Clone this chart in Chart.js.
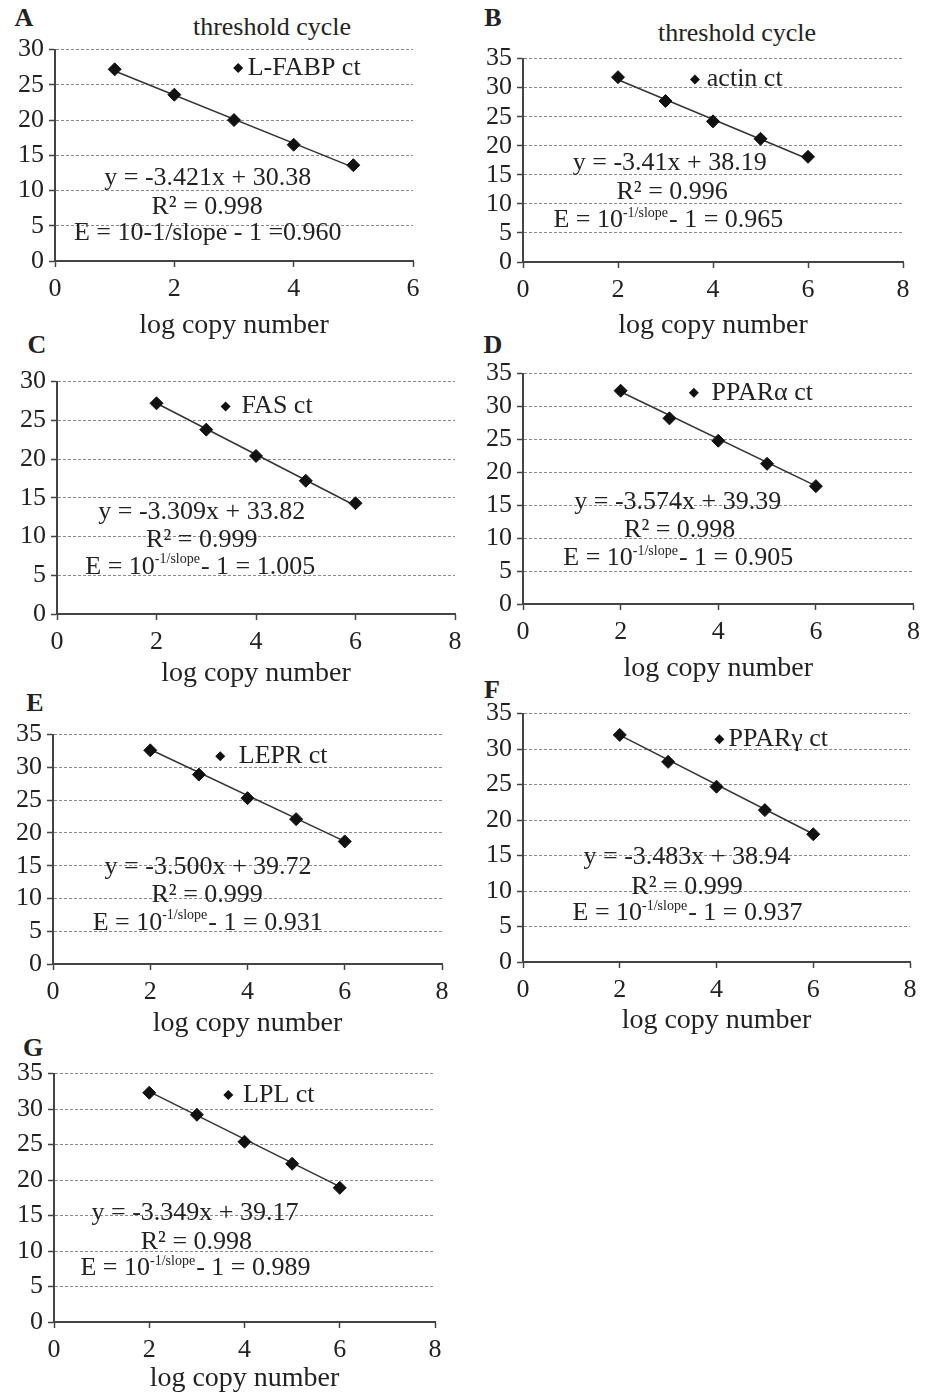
<!DOCTYPE html>
<html>
<head>
<meta charset="utf-8">
<script src="https://cdn.jsdelivr.net/npm/chart.js@4.4.0/dist/chart.umd.min.js"></script>
<style>
body { margin: 0; background: #fff; width: 927px; height: 1397px; overflow: hidden; position: relative; font-family: "Liberation Serif", serif; color: #222; }
canvas { position: absolute; }
.lab { position: absolute; transform: translate(-50%, -50%); white-space: nowrap; }
.letter { font-weight: bold; font-size: 26px; }
.ttl { font-size: 26px; }
</style>
</head>
<body>
<div class="lab letter" style="left:24px;top:18px">A</div>
<div class="lab letter" style="left:493px;top:18px">B</div>
<div class="lab letter" style="left:37px;top:345px">C</div>
<div class="lab letter" style="left:493px;top:345px">D</div>
<div class="lab letter" style="left:35px;top:703px">E</div>
<div class="lab letter" style="left:492px;top:690px">F</div>
<div class="lab letter" style="left:33px;top:1048px">G</div>
<div class="lab ttl" style="left:272px;top:27px">threshold cycle</div>
<div class="lab ttl" style="left:737px;top:33px">threshold cycle</div>

<script>
// log copy number (x) and threshold cycle (y) per gene
const logCopyA = [1, 2, 3, 4, 5];
const logCopy = [2, 3, 4, 5, 6];

const ctLFABP = [27.2, 23.6, 20.0, 16.5, 13.6];
const ctActin = [31.8, 27.7, 24.2, 21.2, 18.1];
const ctFAS = [27.2, 23.8, 20.4, 17.2, 14.3];
const ctPPARa = [32.4, 28.2, 24.8, 21.3, 17.9];
const ctLEPR = [32.6, 28.9, 25.3, 22.1, 18.7];
const ctPPARg = [32.0, 28.2, 24.7, 21.4, 18.0];
const ctLPL = [32.3, 29.2, 25.4, 22.3, 18.9];

// trendline ends, read from the printed equations
const fitXA = [1, 5];
const fitX = [2, 6];
const fitLFABP = [26.96, 13.28];
const fitActin = [31.37, 17.73];
const fitFAS = [27.20, 13.97];
const fitPPARa = [32.24, 17.95];
const fitLEPR = [32.72, 18.72];
const fitPPARg = [31.97, 18.04];
const fitLPL = [32.47, 19.08];

const seriesNames = ['L-FABP ct', 'actin ct', 'FAS ct', 'PPARα ct', 'LEPR ct', 'PPARγ ct', 'LPL ct'];
const equations = ['y = -3.421x + 30.38', 'y = -3.41x + 38.19', 'y = -3.309x + 33.82', 'y = -3.574x + 39.39',
                   'y = -3.500x + 39.72', 'y = -3.483x + 38.94', 'y = -3.349x + 39.17'];
const r2Values = ['0.998', '0.996', '0.999', '0.998', '0.999', '0.999', '0.998'];
const effValues = ['0.960', '0.965', '1.005', '0.905', '0.931', '0.937', '0.989'];
const xTickMax = [6, 8, 8, 8, 8, 8, 8];
const yTickMax = [30, 35, 30, 35, 35, 35, 35];

const FONT = '"Liberation Serif", "Times New Roman", serif';
const INK = '#222';
const TXT = 26;

// layout: plot box [left, top, right, bottom], x-title centre y, note spots in axis units
const panels = [
  { xs: logCopyA, ys: ctLFABP, fx: fitXA, fy: fitLFABP, plot: [55, 49, 413, 261], xt: 325,
    leg: [3.07, 27.4, 3.23], eq: [2.56, 11.7], r2: [2.55, 7.6], e: [2.56, 4.0], sup: false },
  { xs: logCopy, ys: ctActin, fx: fitX, fy: fitActin, plot: [523, 58, 903, 262], xt: 325,
    leg: [3.62, 31.4, 3.87], eq: [3.09, 17.0], r2: [3.14, 12.0], e: [3.05, 7.2], sup: true },
  { xs: logCopy, ys: ctFAS, fx: fitX, fy: fitFAS, plot: [57, 381, 455, 614], xt: 673,
    leg: [3.39, 26.8, 3.71], eq: [2.91, 13.2], r2: [2.91, 9.5], e: [2.87, 6.1], sup: true },
  { xs: logCopy, ys: ctPPARa, fx: fitX, fy: fitPPARa, plot: [523, 373, 914, 604], xt: 668,
    leg: [3.50, 32.1, 3.86], eq: [3.17, 15.5], r2: [3.21, 11.2], e: [3.17, 7.0], sup: true },
  { xs: logCopy, ys: ctLEPR, fx: fitX, fy: fitLEPR, plot: [53, 734, 442, 964], xt: 1023,
    leg: [3.44, 31.7, 3.82], eq: [3.19, 14.8], r2: [3.17, 10.5], e: [3.17, 6.3], sup: true },
  { xs: logCopy, ys: ctPPARg, fx: fitX, fy: fitPPARg, plot: [523, 713, 910, 962], xt: 1020,
    leg: [4.06, 31.4, 4.25], eq: [3.39, 14.8], r2: [3.39, 10.6], e: [3.39, 6.9], sup: true },
  { xs: logCopy, ys: ctLPL, fx: fitX, fy: fitLPL, plot: [54, 1073, 435, 1322], xt: 1378,
    leg: [3.66, 32.0, 3.97], eq: [2.96, 15.3], r2: [2.99, 11.3], e: [2.96, 7.6], sup: true }
];

function f(size) { return size + 'px ' + FONT; }

function drawEff(ctx, cx, cy, value, sup) {
  ctx.textBaseline = 'middle';
  if (!sup) {
    ctx.font = f(TXT);
    ctx.textAlign = 'center';
    ctx.fillText('E = 10-1/slope - 1 =' + value, cx, cy);
    return;
  }
  const a = 'E = 10', b = '-1/slope', c = '- 1 = ' + value;
  ctx.font = f(TXT);
  const wa = ctx.measureText(a).width, wc = ctx.measureText(c).width;
  ctx.font = f(14);
  const wb = ctx.measureText(b).width;
  let x = cx - (wa + wb + wc) / 2;
  ctx.textAlign = 'left';
  ctx.font = f(TXT); ctx.fillText(a, x, cy); x += wa;
  ctx.font = f(14); ctx.fillText(b, x, cy - 7); x += wb + 1;
  ctx.font = f(TXT); ctx.fillText(c, x, cy);
}

function notesPlugin(p, i) {
  return {
    id: 'notes' + i,
    afterDatasetsDraw(chart) {
      const ctx = chart.ctx, sx = chart.scales.x, sy = chart.scales.y;
      ctx.save();
      // legend marker + name
      const mx = sx.getPixelForValue(p.leg[0]), my = sy.getPixelForValue(p.leg[1]), r = 5;
      ctx.fillStyle = '#111';
      ctx.beginPath();
      ctx.moveTo(mx - r, my); ctx.lineTo(mx, my - r); ctx.lineTo(mx + r, my); ctx.lineTo(mx, my + r);
      ctx.closePath(); ctx.fill();
      ctx.fillStyle = INK;
      ctx.font = f(TXT);
      ctx.textBaseline = 'middle';
      ctx.textAlign = 'left';
      ctx.fillText(seriesNames[i], sx.getPixelForValue(p.leg[2]), my);
      // regression text
      ctx.textAlign = 'center';
      ctx.fillText(equations[i], sx.getPixelForValue(p.eq[0]), sy.getPixelForValue(p.eq[1]));
      ctx.fillText('R² = ' + r2Values[i], sx.getPixelForValue(p.r2[0]), sy.getPixelForValue(p.r2[1]));
      drawEff(ctx, sx.getPixelForValue(p.e[0]), sy.getPixelForValue(p.e[1]), effValues[i], p.sup);
      ctx.restore();
    }
  };
}

panels.forEach((p, i) => {
  const [l, t, r, b] = p.plot;
  const boxL = l - 55, boxT = t - 20;
  const boxR = Math.min(r + 16, 927), boxB = Math.round(p.xt + 17);
  const cv = document.createElement('canvas');
  cv.width = boxR - boxL;
  cv.height = boxB - boxT;
  cv.style.left = boxL + 'px';
  cv.style.top = boxT + 'px';
  document.body.appendChild(cv);

  const points = p.xs.map((x, k) => ({ x: x, y: p.ys[k] }));
  const fit = p.fx.map((x, k) => ({ x: x, y: p.fy[k] }));

  new Chart(cv.getContext('2d'), {
    type: 'scatter',
    data: {
      datasets: [
        { data: points, pointStyle: 'rectRot', pointRadius: 6.5, backgroundColor: '#111', borderColor: '#111', borderWidth: 1, order: 1 },
        { data: fit, showLine: true, pointRadius: 0, borderColor: '#333', borderWidth: 1.5, order: 2 }
      ]
    },
    options: {
      responsive: false,
      animation: false,
      events: [],
      layout: { padding: { left: 0, top: t - boxT, right: boxR - r, bottom: 0 } },
      plugins: { legend: { display: false }, tooltip: { enabled: false } },
      scales: {
        x: {
          type: 'linear', min: 0, max: xTickMax[i],
          afterFit: s => { s.height = boxB - b; },
          ticks: { stepSize: 2, autoSkip: false, padding: 7, color: INK, font: { family: FONT, size: TXT } },
          grid: { drawOnChartArea: false, drawTicks: true, tickLength: 6, tickColor: '#444', tickWidth: 1.5 },
          border: { color: '#444', width: 2 },
          title: { display: true, text: 'log copy number', color: INK, padding: 0, font: { family: FONT, size: 28 } }
        },
        y: {
          min: 0, max: yTickMax[i],
          afterFit: s => { s.width = l - boxL; },
          ticks: { stepSize: 5, autoSkip: false, padding: 5, color: INK, font: { family: FONT, size: TXT } },
          grid: {
            color: c => (c.tick && c.tick.value === 0) ? 'rgba(0,0,0,0)' : '#8a8a8a',
            lineWidth: 1, tickLength: 6, tickColor: '#444', tickWidth: 1.5, tickBorderDash: []
          },
          border: { color: '#444', width: 2, dash: [3, 2] }
        }
      }
    },
    plugins: [notesPlugin(p, i)]
  });
});
</script>
</body>
</html>
